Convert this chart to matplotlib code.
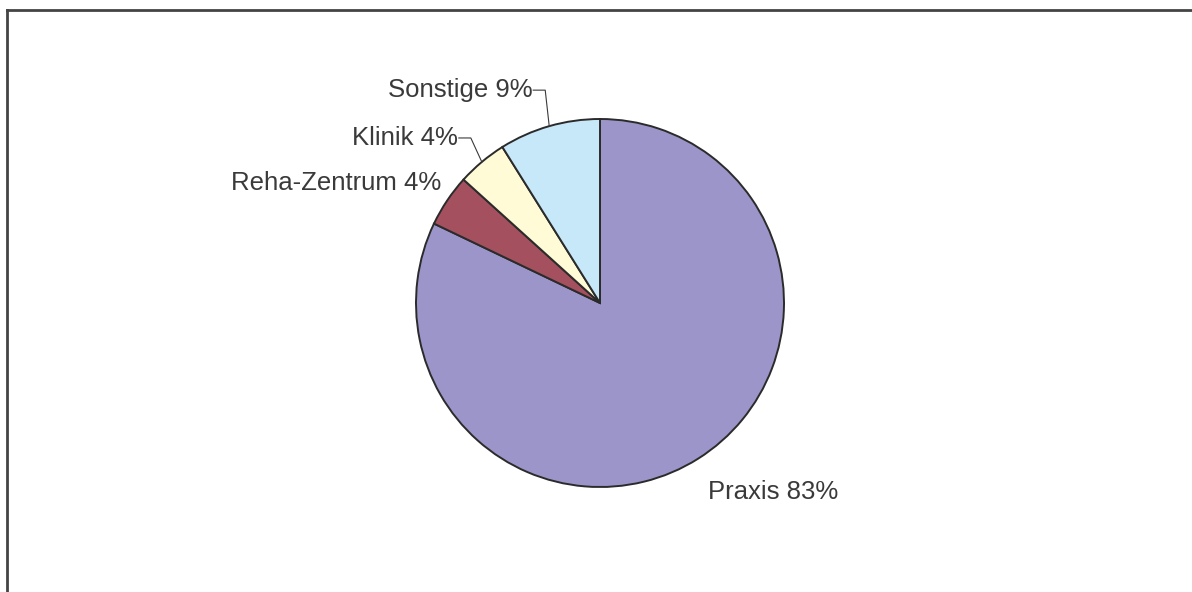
import numpy as np
import matplotlib
matplotlib.use('Agg')
import matplotlib.pyplot as plt
from matplotlib.lines import Line2D

# Daten
categories = ['Praxis', 'Reha-Zentrum', 'Klinik', 'Sonstige']
shares = [82.1, 4.6, 4.4, 8.9]
labels = ['Praxis 83%', 'Reha-Zentrum 4%', 'Klinik 4%', 'Sonstige 9%']
colors = ['#9b95c9', '#a4505e', '#fffbd7', '#c7e8f9']

plt.rcParams['font.family'] = ['Liberation Sans', 'DejaVu Sans']

W, H = 1192, 592
fig = plt.figure(figsize=(W / 100, H / 100), dpi=100)
ax = fig.add_axes([0, 0, 1, 1])
ax.set_xlim(0, W)
ax.set_ylim(0, H)
ax.set_aspect('equal')
ax.axis('off')

cx, cy, r = 600, H - 303, 184
wedges, _ = ax.pie(shares, colors=colors, startangle=90, counterclock=False,
                   center=(cx, cy), radius=r, frame=True,
                   wedgeprops=dict(edgecolor='#2b2b2b', linewidth=1.4))
ax.set_xlim(0, W)
ax.set_ylim(0, H)
ax.axis('off')

txt = dict(fontsize=18.5, color='#3a3a3a', va='center')

# Beschriftungen
for i, w in enumerate(wedges):
    mid = np.deg2rad((w.theta1 + w.theta2) / 2)
    ex, ey = cx + r * np.cos(mid), cy + r * np.sin(mid)
    if categories[i] == 'Praxis':
        ax.text(708, H - 492, labels[i], ha='left', **txt)
    elif categories[i] == 'Reha-Zentrum':
        ax.text(441, H - 183, labels[i], ha='right', **txt)
    else:
        ly = ey + 36 if categories[i] == 'Sonstige' else ey + 24
        lx = ex - 4 if categories[i] == 'Sonstige' else ex - 11
        ax.plot([ex, lx, lx - 12], [ey, ly, ly], color='#3a3a3a', lw=0.8)
        ax.text(lx - 13, ly, labels[i], ha='right', **txt)

# Rahmen (oben und links)
fig.add_artist(Line2D([7 / W, 1], [1 - 10 / H, 1 - 10 / H], color='#444444', lw=2))
fig.add_artist(Line2D([7 / W, 7 / W], [0, 1 - 10 / H], color='#444444', lw=2))

plt.savefig('out.png', dpi=100)
